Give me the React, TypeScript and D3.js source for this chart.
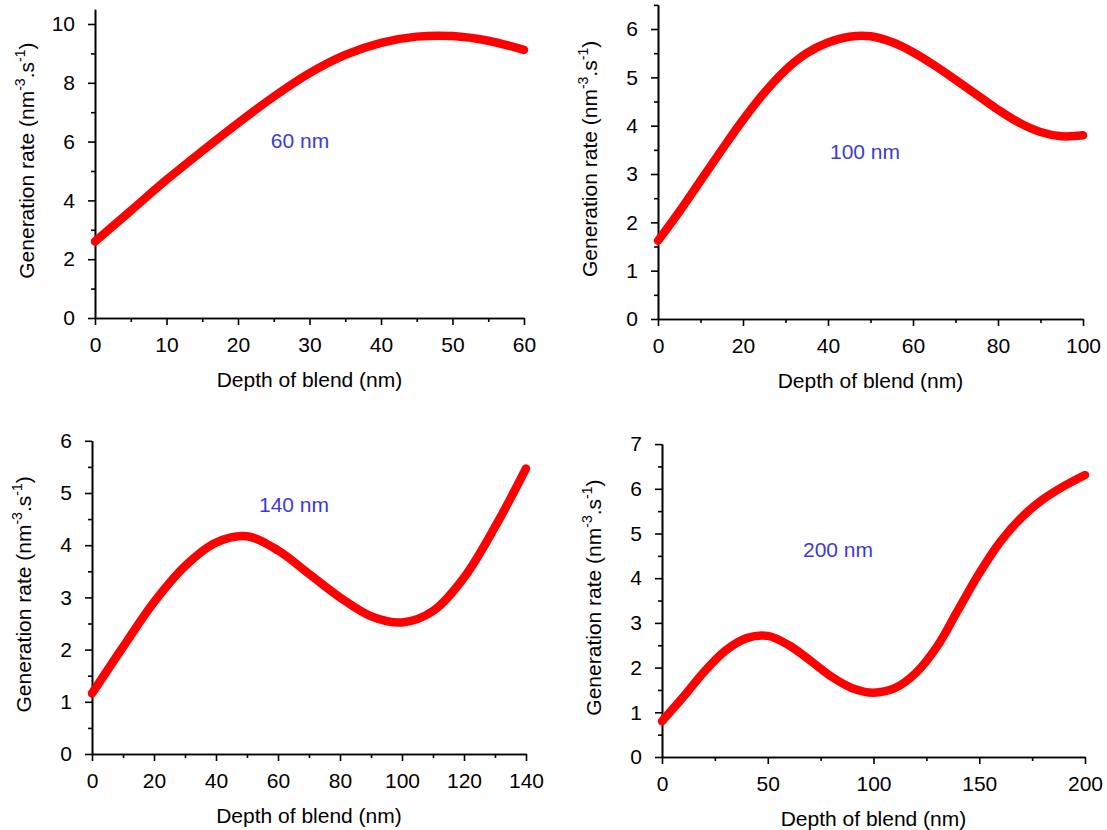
import React, { useRef, useEffect } from "react";
import * as d3 from "d3";

// depth (nm) and generation rate (nm^-3.s^-1) for each film thickness
const depth60 = [0, 5, 10, 15, 20, 25, 30, 35, 40, 45, 50, 55, 60];
const rate60 = [2.6, 3.65, 4.7, 5.68, 6.63, 7.53, 8.33, 8.95, 9.36, 9.57, 9.59, 9.43, 9.12];

const depth100 = [0, 5, 10, 15, 20, 25, 30, 35, 40, 45, 50, 55, 60, 65, 70, 75, 80, 85, 90, 95, 100];
const rate100 = [1.62, 2.22, 2.86, 3.5, 4.12, 4.68, 5.15, 5.5, 5.72, 5.84, 5.85, 5.73, 5.52, 5.25, 4.95, 4.64, 4.33, 4.06, 3.87, 3.78, 3.8];

const depth140 = [0, 10, 20, 30, 40, 50, 60, 70, 80, 90, 100, 110, 120, 130, 140];
const rate140 = [1.16, 2.05, 2.91, 3.6, 4.05, 4.17, 3.9, 3.45, 3.0, 2.64, 2.52, 2.74, 3.38, 4.35, 5.47];

const depth200 = [0, 10, 20, 30, 40, 50, 60, 70, 80, 90, 100, 110, 120, 130, 140, 150, 160, 170, 180, 190, 200];
const rate200 = [0.8, 1.34, 1.91, 2.38, 2.66, 2.71, 2.5, 2.16, 1.8, 1.54, 1.44, 1.54, 1.88, 2.47, 3.29, 4.11, 4.82, 5.36, 5.76, 6.06, 6.31];

const thicknessLabels = ["60 nm", "100 nm", "140 nm", "200 nm"];

const FONT = "'Liberation Sans', Arial, sans-serif";

export default function App() {
  const svgRef = useRef<SVGSVGElement>(null);

  useEffect(() => {
    const svg = d3.select(svgRef.current);
    svg.selectAll("*").remove();

    const panels = [
      { xs: depth60, ys: rate60, xMax: 60, xStep: 10, yMax: 10.5, yTop: 10, yStep: 2,
        left: 95, right: 524, bottom: 318, unit: 29.4, note: [300, 141] },
      { xs: depth100, ys: rate100, xMax: 100, xStep: 20, yMax: 6.5, yTop: 6, yStep: 1,
        left: 658, right: 1083, bottom: 319, unit: 48.33, note: [865, 152] },
      { xs: depth140, ys: rate140, xMax: 140, xStep: 20, yMax: 6, yTop: 6, yStep: 1,
        left: 92, right: 526, bottom: 754, unit: 52.2, note: [294, 505] },
      { xs: depth200, ys: rate200, xMax: 200, xStep: 50, yMax: 7, yTop: 7, yStep: 1,
        left: 662, right: 1085, bottom: 757, unit: 44.7, note: [838, 550] }
    ];

    const fmt = d3.format("~g");

    panels.forEach((p, i) => {
      const top = p.bottom - p.yMax * p.unit;
      const x = d3.scaleLinear().domain([0, p.xMax]).range([p.left, p.right]);
      const y = d3.scaleLinear().domain([0, p.yMax]).range([p.bottom, top]);
      const g = svg.append("g");

      const xMajor = d3.range(0, p.xMax + 1e-6, p.xStep);
      const xMinor = d3.range(p.xStep / 2, p.xMax, p.xStep);
      const yMajor = d3.range(0, p.yTop + 1e-6, p.yStep);
      const yMinor = d3.range(p.yStep / 2, p.yMax + 1e-6, p.yStep);

      // minor ticks first, then the main axes with labels
      g.append("g")
        .attr("transform", `translate(0,${p.bottom})`)
        .call(d3.axisBottom(x).tickValues(xMinor).tickSize(4).tickSizeOuter(0).tickFormat(() => ""));
      g.append("g")
        .attr("transform", `translate(${p.left},0)`)
        .call(d3.axisLeft(y).tickValues(yMinor).tickSize(4).tickSizeOuter(0).tickFormat(() => ""));

      const xAxis = g.append("g")
        .attr("transform", `translate(0,${p.bottom})`)
        .call(d3.axisBottom(x).tickValues(xMajor).tickSize(7).tickSizeOuter(0)
          .tickPadding(9).tickFormat(d => fmt(d as number)));
      const yAxis = g.append("g")
        .attr("transform", `translate(${p.left},0)`)
        .call(d3.axisLeft(y).tickValues(yMajor).tickSize(7).tickSizeOuter(0)
          .tickPadding(13).tickFormat(d => fmt(d as number)));

      g.selectAll(".domain, .tick line")
        .attr("stroke", "#000")
        .attr("stroke-width", 1.6);
      [xAxis, yAxis].forEach(a => a.selectAll("text")
        .attr("fill", "#000")
        .style("font-family", FONT)
        .style("font-size", "21px"));
      xAxis.selectAll("text").attr("dy", "0.85em");

      // x label
      g.append("text")
        .attr("x", (p.left + p.right) / 2)
        .attr("y", p.bottom + 69)
        .attr("text-anchor", "middle")
        .style("font-family", FONT)
        .style("font-size", "21px")
        .text("Depth of blend (nm)");

      // y label with superscripts
      const yl = g.append("text")
        .attr("transform", `translate(${p.left - 61},${(p.bottom + top) / 2 - 3}) rotate(-90)`)
        .attr("text-anchor", "middle")
        .style("font-family", FONT)
        .style("font-size", "21px");
      yl.append("tspan").text("Generation rate (nm");
      yl.append("tspan").attr("dy", -9).style("font-size", "14px").text("-3");
      yl.append("tspan").attr("dy", 9).text(".s");
      yl.append("tspan").attr("dy", -9).style("font-size", "14px").text("-1");
      yl.append("tspan").attr("dy", 9).text(")");

      const line = d3.line<number>()
        .x((_, k) => x(p.xs[k]))
        .y(d => y(d))
        .curve(d3.curveCatmullRom.alpha(0.5));

      g.append("path")
        .datum(p.ys)
        .attr("d", line)
        .attr("fill", "none")
        .attr("stroke", "#ff0000")
        .attr("stroke-width", 8.5)
        .attr("stroke-linecap", "round")
        .attr("stroke-linejoin", "round");

      g.append("text")
        .attr("x", p.note[0])
        .attr("y", p.note[1])
        .attr("dy", "0.35em")
        .attr("text-anchor", "middle")
        .attr("fill", "#3b3bd6")
        .style("font-family", FONT)
        .style("font-size", "21px")
        .text(thicknessLabels[i]);
    });
  }, []);

  return (
    <svg ref={svgRef} width={1107} height={830}
      style={{ position: "absolute", left: 0, top: 0, background: "#fff" }} />
  );
}
